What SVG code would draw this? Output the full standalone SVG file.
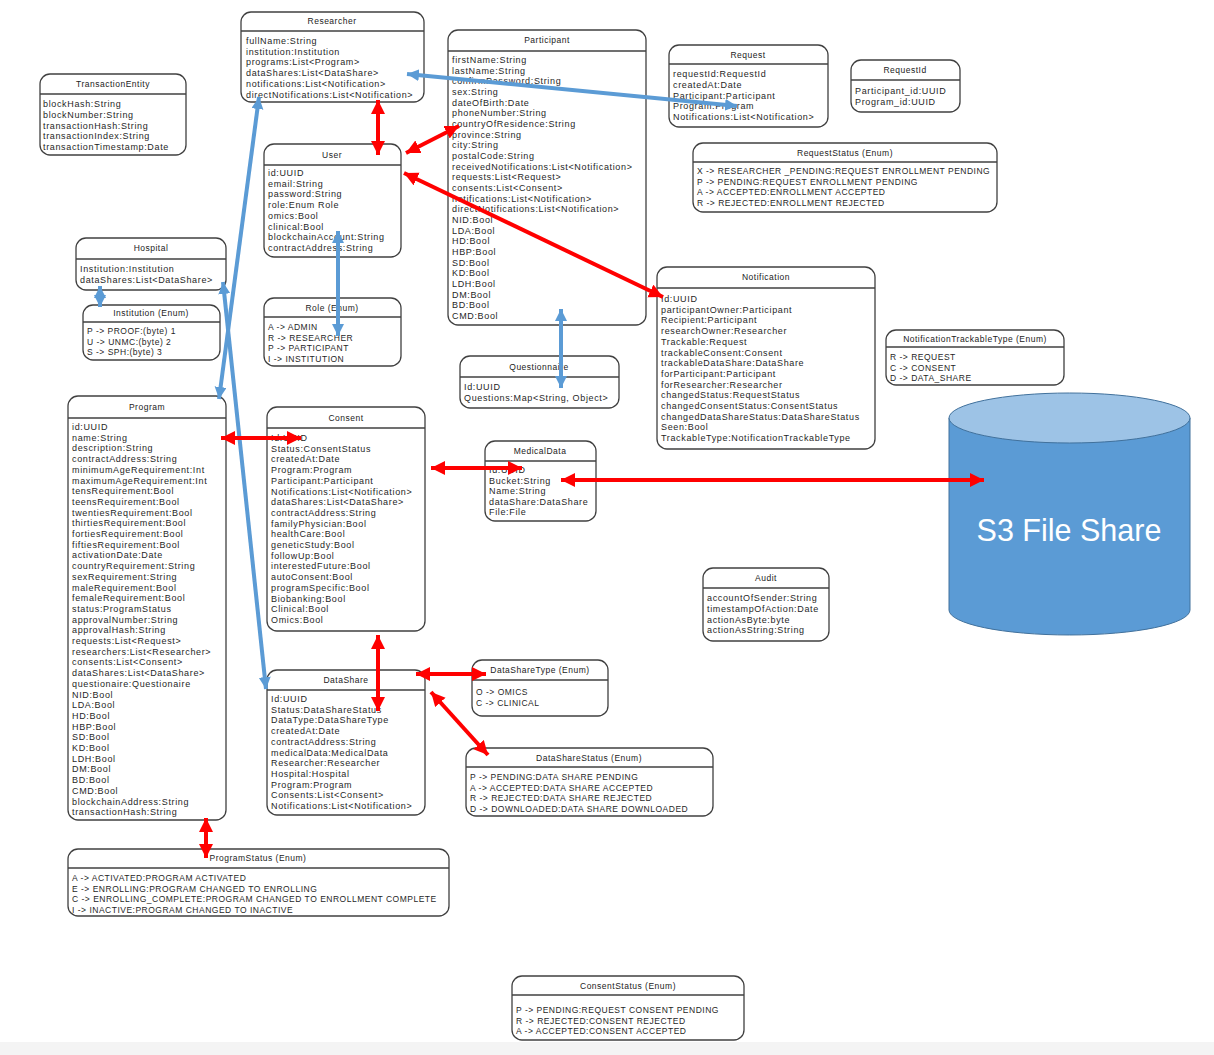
<svg xmlns="http://www.w3.org/2000/svg" width="1214" height="1055" viewBox="0 0 1214 1055">
  <style>
    .box { fill: #ffffff; stroke: #404040; stroke-width: 1.3; }
    .hdr { stroke: #404040; stroke-width: 1.3; }
    .ttl { font-family: "Liberation Sans", Arial, sans-serif; font-size: 8.5px; letter-spacing: 0.5px; fill: #222; text-anchor: middle; }
    .row { font-family: "Liberation Sans", Arial, sans-serif; font-size: 9px; letter-spacing: 0.65px; fill: #1f1f1f; }
    .enum { font-family: "Liberation Sans", Arial, sans-serif; font-size: 8.5px; letter-spacing: 0.5px; fill: #1f1f1f; }
    .blue { stroke: #5b9bd5; stroke-width: 4; fill: none; }
    .red { stroke: #ff0000; stroke-width: 4; fill: none; }
    .s3 { font-family: "Liberation Sans", Arial, sans-serif; font-size: 30.5px; fill: #ffffff; text-anchor: middle; }
  </style>
  <defs>
    <marker id="ahBlue" markerUnits="userSpaceOnUse" markerWidth="14" markerHeight="14" refX="12" refY="6" orient="auto-start-reverse">
      <path d="M0,0 L12,6 L0,12 z" fill="#5b9bd5"/>
    </marker>
    <marker id="ahRed" markerUnits="userSpaceOnUse" markerWidth="16" markerHeight="16" refX="14" refY="7" orient="auto-start-reverse">
      <path d="M0,0 L14,7 L0,14 z" fill="#ff0000"/>
    </marker>
  </defs>

  <rect x="0" y="0" width="1214" height="1055" fill="#ffffff"/>
  <rect x="0" y="1042" width="1214" height="13" fill="#f4f4f4"/>

  <!-- storage cylinder -->
  <g id="s3">
    <path d="M949,418 L949,610 A120.5,25 0 0 0 1190,610 L1190,418 Z" fill="#5b9bd5" stroke="#41719c" stroke-width="1"/>
    <ellipse cx="1069.5" cy="418" rx="120.5" ry="25" fill="#9dc3e6" stroke="#41719c" stroke-width="1"/>
    <text class="s3" x="1069" y="541">S3 File Share</text>
  </g>

  <g id="researcher">
    <rect class="box" x="241" y="12" width="183" height="90" rx="10"/>
    <line class="hdr" x1="241" y1="31" x2="424" y2="31"/>
    <text class="ttl" x="332" y="24">Researcher</text>
    <text class="row" y="44">
      <tspan x="246">fullName:String</tspan>
      <tspan x="246" dy="10.7">institution:Institution</tspan>
      <tspan x="246" dy="10.7">programs:List&lt;Program&gt;</tspan>
      <tspan x="246" dy="10.7">dataShares:List&lt;DataShare&gt;</tspan>
      <tspan x="246" dy="10.7">notifications:List&lt;Notification&gt;</tspan>
      <tspan x="246" dy="10.7">directNotifications:List&lt;Notification&gt;</tspan>
    </text>
  </g>

  <g id="transactionEntity">
    <rect class="box" x="40" y="74" width="146" height="81" rx="10"/>
    <line class="hdr" x1="40" y1="94" x2="186" y2="94"/>
    <text class="ttl" x="113" y="87">TransactionEntity</text>
    <text class="row" y="107">
      <tspan x="43">blockHash:String</tspan>
      <tspan x="43" dy="10.8">blockNumber:String</tspan>
      <tspan x="43" dy="10.8">transactionHash:String</tspan>
      <tspan x="43" dy="10.8">transactionIndex:String</tspan>
      <tspan x="43" dy="10.8">transactionTimestamp:Date</tspan>
    </text>
  </g>

  <g id="participant">
    <rect class="box" x="448" y="30" width="198" height="295" rx="10"/>
    <line class="hdr" x1="448" y1="51" x2="646" y2="51"/>
    <text class="ttl" x="547" y="43">Participant</text>
    <text class="row" y="63">
      <tspan x="452">firstName:String</tspan>
      <tspan x="452" dy="10.67">lastName:String</tspan>
      <tspan x="452" dy="10.67">confirmPassword:String</tspan>
      <tspan x="452" dy="10.67">sex:String</tspan>
      <tspan x="452" dy="10.67">dateOfBirth:Date</tspan>
      <tspan x="452" dy="10.67">phoneNumber:String</tspan>
      <tspan x="452" dy="10.67">countryOfResidence:String</tspan>
      <tspan x="452" dy="10.67">province:String</tspan>
      <tspan x="452" dy="10.67">city:String</tspan>
      <tspan x="452" dy="10.67">postalCode:String</tspan>
      <tspan x="452" dy="10.67">receivedNotifications:List&lt;Notification&gt;</tspan>
      <tspan x="452" dy="10.67">requests:List&lt;Request&gt;</tspan>
      <tspan x="452" dy="10.67">consents:List&lt;Consent&gt;</tspan>
      <tspan x="452" dy="10.67">notifications:List&lt;Notification&gt;</tspan>
      <tspan x="452" dy="10.67">directNotifications:List&lt;Notification&gt;</tspan>
      <tspan x="452" dy="10.67">NID:Bool</tspan>
      <tspan x="452" dy="10.67">LDA:Bool</tspan>
      <tspan x="452" dy="10.67">HD:Bool</tspan>
      <tspan x="452" dy="10.67">HBP:Bool</tspan>
      <tspan x="452" dy="10.67">SD:Bool</tspan>
      <tspan x="452" dy="10.67">KD:Bool</tspan>
      <tspan x="452" dy="10.67">LDH:Bool</tspan>
      <tspan x="452" dy="10.67">DM:Bool</tspan>
      <tspan x="452" dy="10.67">BD:Bool</tspan>
      <tspan x="452" dy="10.67">CMD:Bool</tspan>
    </text>
  </g>

  <g id="request">
    <rect class="box" x="669" y="45" width="159" height="82" rx="10"/>
    <line class="hdr" x1="669" y1="64" x2="828" y2="64"/>
    <text class="ttl" x="748" y="58">Request</text>
    <text class="row" y="77">
      <tspan x="673">requestId:RequestId</tspan>
      <tspan x="673" dy="10.8">createdAt:Date</tspan>
      <tspan x="673" dy="10.8">Participant:Participant</tspan>
      <tspan x="673" dy="10.8">Program:Program</tspan>
      <tspan x="673" dy="10.8">Notifications:List&lt;Notification&gt;</tspan>
    </text>
  </g>

  <g id="requestId">
    <rect class="box" x="851" y="60" width="109" height="52" rx="10"/>
    <line class="hdr" x1="851" y1="80" x2="960" y2="80"/>
    <text class="ttl" x="905" y="73">RequestId</text>
    <text class="row" y="94">
      <tspan x="855">Participant_id:UUID</tspan>
      <tspan x="855" dy="10.8">Program_id:UUID</tspan>
    </text>
  </g>

  <g id="requestStatus">
    <rect class="box" x="693" y="143" width="304" height="69" rx="10"/>
    <line class="hdr" x1="693" y1="162" x2="997" y2="162"/>
    <text class="ttl" x="845" y="156">RequestStatus (Enum)</text>
    <text class="enum" y="174">
      <tspan x="697">X -&gt; RESEARCHER _PENDING:REQUEST ENROLLMENT PENDING</tspan>
      <tspan x="697" dy="10.7">P -&gt; PENDING:REQUEST ENROLLMENT PENDING</tspan>
      <tspan x="697" dy="10.7">A -&gt; ACCEPTED:ENROLLMENT ACCEPTED</tspan>
      <tspan x="697" dy="10.7">R -&gt; REJECTED:ENROLLMENT REJECTED</tspan>
    </text>
  </g>

  <g id="user">
    <rect class="box" x="264" y="144" width="137" height="113" rx="10"/>
    <line class="hdr" x1="264" y1="165" x2="401" y2="165"/>
    <text class="ttl" x="332" y="158">User</text>
    <text class="row" y="176">
      <tspan x="268">id:UUID</tspan>
      <tspan x="268" dy="10.7">email:String</tspan>
      <tspan x="268" dy="10.7">password:String</tspan>
      <tspan x="268" dy="10.7">role:Enum Role</tspan>
      <tspan x="268" dy="10.7">omics:Bool</tspan>
      <tspan x="268" dy="10.7">clinical:Bool</tspan>
      <tspan x="268" dy="10.7">blockchainAccount:String</tspan>
      <tspan x="268" dy="10.7">contractAddress:String</tspan>
    </text>
  </g>

  <g id="hospital">
    <rect class="box" x="76" y="238" width="150" height="52" rx="10"/>
    <line class="hdr" x1="76" y1="259" x2="226" y2="259"/>
    <text class="ttl" x="151" y="251">Hospital</text>
    <text class="row" y="272">
      <tspan x="80">Institution:Institution</tspan>
      <tspan x="80" dy="10.8">dataShares:List&lt;DataShare&gt;</tspan>
    </text>
  </g>

  <g id="institution">
    <rect class="box" x="83" y="305" width="137" height="55" rx="10"/>
    <line class="hdr" x1="83" y1="322" x2="220" y2="322"/>
    <text class="ttl" x="151" y="316">Institution (Enum)</text>
    <text class="enum" y="334">
      <tspan x="87">P -&gt; PROOF:(byte) 1</tspan>
      <tspan x="87" dy="10.7">U -&gt; UNMC:(byte) 2</tspan>
      <tspan x="87" dy="10.7">S -&gt; SPH:(byte) 3</tspan>
    </text>
  </g>

  <g id="role">
    <rect class="box" x="264" y="298" width="137" height="68" rx="10"/>
    <line class="hdr" x1="264" y1="317" x2="401" y2="317"/>
    <text class="ttl" x="332" y="311">Role (Enum)</text>
    <text class="enum" y="330">
      <tspan x="268">A -&gt; ADMIN</tspan>
      <tspan x="268" dy="10.5">R -&gt; RESEARCHER</tspan>
      <tspan x="268" dy="10.5">P -&gt; PARTICIPANT</tspan>
      <tspan x="268" dy="10.5">I -&gt; INSTITUTION</tspan>
    </text>
  </g>

  <g id="notification">
    <rect class="box" x="657" y="267" width="218" height="182" rx="10"/>
    <line class="hdr" x1="657" y1="288" x2="875" y2="288"/>
    <text class="ttl" x="766" y="280">Notification</text>
    <text class="row" y="302">
      <tspan x="661">Id:UUID</tspan>
      <tspan x="661" dy="10.7">participantOwner:Participant</tspan>
      <tspan x="661" dy="10.7">Recipient:Participant</tspan>
      <tspan x="661" dy="10.7">researchOwner:Researcher</tspan>
      <tspan x="661" dy="10.7">Trackable:Request</tspan>
      <tspan x="661" dy="10.7">trackableConsent:Consent</tspan>
      <tspan x="661" dy="10.7">trackableDataShare:DataShare</tspan>
      <tspan x="661" dy="10.7">forParticipant:Participant</tspan>
      <tspan x="661" dy="10.7">forResearcher:Researcher</tspan>
      <tspan x="661" dy="10.7">changedStatus:RequestStatus</tspan>
      <tspan x="661" dy="10.7">changedConsentStatus:ConsentStatus</tspan>
      <tspan x="661" dy="10.7">changedDataShareStatus:DataShareStatus</tspan>
      <tspan x="661" dy="10.7">Seen:Bool</tspan>
      <tspan x="661" dy="10.7">TrackableType:NotificationTrackableType</tspan>
    </text>
  </g>

  <g id="notificationTrackableType">
    <rect class="box" x="886" y="330" width="178" height="55" rx="10"/>
    <line class="hdr" x1="886" y1="347" x2="1064" y2="347"/>
    <text class="ttl" x="975" y="342">NotificationTrackableType (Enum)</text>
    <text class="enum" y="360">
      <tspan x="890">R -&gt; REQUEST</tspan>
      <tspan x="890" dy="10.7">C -&gt; CONSENT</tspan>
      <tspan x="890" dy="10.7">D -&gt; DATA_SHARE</tspan>
    </text>
  </g>

  <g id="questionnaire">
    <rect class="box" x="460" y="356" width="159" height="52" rx="10"/>
    <line class="hdr" x1="460" y1="377" x2="619" y2="377"/>
    <text class="ttl" x="539" y="370">Questionnaire</text>
    <text class="row" y="390">
      <tspan x="464">Id:UUID</tspan>
      <tspan x="464" dy="10.8">Questions:Map&lt;String, Object&gt;</tspan>
    </text>
  </g>

  <g id="program">
    <rect class="box" x="68" y="396" width="158" height="424" rx="10"/>
    <line class="hdr" x1="68" y1="418" x2="226" y2="418"/>
    <text class="ttl" x="147" y="410">Program</text>
    <text class="row" y="430">
      <tspan x="72">id:UUID</tspan>
      <tspan x="72" dy="10.7">name:String</tspan>
      <tspan x="72" dy="10.7">description:String</tspan>
      <tspan x="72" dy="10.7">contractAddress:String</tspan>
      <tspan x="72" dy="10.7">minimumAgeRequirement:Int</tspan>
      <tspan x="72" dy="10.7">maximumAgeRequirement:Int</tspan>
      <tspan x="72" dy="10.7">tensRequirement:Bool</tspan>
      <tspan x="72" dy="10.7">teensRequirement:Bool</tspan>
      <tspan x="72" dy="10.7">twentiesRequirement:Bool</tspan>
      <tspan x="72" dy="10.7">thirtiesRequirement:Bool</tspan>
      <tspan x="72" dy="10.7">fortiesRequirement:Bool</tspan>
      <tspan x="72" dy="10.7">fiftiesRequirement:Bool</tspan>
      <tspan x="72" dy="10.7">activationDate:Date</tspan>
      <tspan x="72" dy="10.7">countryRequirement:String</tspan>
      <tspan x="72" dy="10.7">sexRequirement:String</tspan>
      <tspan x="72" dy="10.7">maleRequirement:Bool</tspan>
      <tspan x="72" dy="10.7">femaleRequirement:Bool</tspan>
      <tspan x="72" dy="10.7">status:ProgramStatus</tspan>
      <tspan x="72" dy="10.7">approvalNumber:String</tspan>
      <tspan x="72" dy="10.7">approvalHash:String</tspan>
      <tspan x="72" dy="10.7">requests:List&lt;Request&gt;</tspan>
      <tspan x="72" dy="10.7">researchers:List&lt;Researcher&gt;</tspan>
      <tspan x="72" dy="10.7">consents:List&lt;Consent&gt;</tspan>
      <tspan x="72" dy="10.7">dataShares:List&lt;DataShare&gt;</tspan>
      <tspan x="72" dy="10.7">questionaire:Questionaire</tspan>
      <tspan x="72" dy="10.7">NID:Bool</tspan>
      <tspan x="72" dy="10.7">LDA:Bool</tspan>
      <tspan x="72" dy="10.7">HD:Bool</tspan>
      <tspan x="72" dy="10.7">HBP:Bool</tspan>
      <tspan x="72" dy="10.7">SD:Bool</tspan>
      <tspan x="72" dy="10.7">KD:Bool</tspan>
      <tspan x="72" dy="10.7">LDH:Bool</tspan>
      <tspan x="72" dy="10.7">DM:Bool</tspan>
      <tspan x="72" dy="10.7">BD:Bool</tspan>
      <tspan x="72" dy="10.7">CMD:Bool</tspan>
      <tspan x="72" dy="10.7">blockchainAddress:String</tspan>
      <tspan x="72" dy="10.7">transactionHash:String</tspan>
    </text>
  </g>

  <g id="consent">
    <rect class="box" x="267" y="407" width="158" height="224" rx="10"/>
    <line class="hdr" x1="267" y1="428" x2="425" y2="428"/>
    <text class="ttl" x="346" y="421">Consent</text>
    <text class="row" y="441">
      <tspan x="271">Id:UUID</tspan>
      <tspan x="271" dy="10.7">Status:ConsentStatus</tspan>
      <tspan x="271" dy="10.7">createdAt:Date</tspan>
      <tspan x="271" dy="10.7">Program:Program</tspan>
      <tspan x="271" dy="10.7">Participant:Participant</tspan>
      <tspan x="271" dy="10.7">Notifications:List&lt;Notification&gt;</tspan>
      <tspan x="271" dy="10.7">dataShares:List&lt;DataShare&gt;</tspan>
      <tspan x="271" dy="10.7">contractAddress:String</tspan>
      <tspan x="271" dy="10.7">familyPhysician:Bool</tspan>
      <tspan x="271" dy="10.7">healthCare:Bool</tspan>
      <tspan x="271" dy="10.7">geneticStudy:Bool</tspan>
      <tspan x="271" dy="10.7">followUp:Bool</tspan>
      <tspan x="271" dy="10.7">interestedFuture:Bool</tspan>
      <tspan x="271" dy="10.7">autoConsent:Bool</tspan>
      <tspan x="271" dy="10.7">programSpecific:Bool</tspan>
      <tspan x="271" dy="10.7">Biobanking:Bool</tspan>
      <tspan x="271" dy="10.7">Clinical:Bool</tspan>
      <tspan x="271" dy="10.7">Omics:Bool</tspan>
    </text>
  </g>

  <g id="medicalData">
    <rect class="box" x="485" y="441" width="111" height="80" rx="10"/>
    <line class="hdr" x1="485" y1="461" x2="596" y2="461"/>
    <text class="ttl" x="540" y="454">MedicalData</text>
    <text class="row" y="473">
      <tspan x="489">Id:UUID</tspan>
      <tspan x="489" dy="10.6">Bucket:String</tspan>
      <tspan x="489" dy="10.6">Name:String</tspan>
      <tspan x="489" dy="10.6">dataShare:DataShare</tspan>
      <tspan x="489" dy="10.6">File:File</tspan>
    </text>
  </g>

  <g id="audit">
    <rect class="box" x="703" y="568" width="126" height="73" rx="10"/>
    <line class="hdr" x1="703" y1="588" x2="829" y2="588"/>
    <text class="ttl" x="766" y="581">Audit</text>
    <text class="row" y="601">
      <tspan x="707">accountOfSender:String</tspan>
      <tspan x="707" dy="10.8">timestampOfAction:Date</tspan>
      <tspan x="707" dy="10.8">actionAsByte:byte</tspan>
      <tspan x="707" dy="10.8">actionAsString:String</tspan>
    </text>
  </g>

  <g id="dataShare">
    <rect class="box" x="267" y="670" width="158" height="145" rx="10"/>
    <line class="hdr" x1="267" y1="690" x2="425" y2="690"/>
    <text class="ttl" x="346" y="683">DataShare</text>
    <text class="row" y="702">
      <tspan x="271">Id:UUID</tspan>
      <tspan x="271" dy="10.7">Status:DataShareStatus</tspan>
      <tspan x="271" dy="10.7">DataType:DataShareType</tspan>
      <tspan x="271" dy="10.7">createdAt:Date</tspan>
      <tspan x="271" dy="10.7">contractAddress:String</tspan>
      <tspan x="271" dy="10.7">medicalData:MedicalData</tspan>
      <tspan x="271" dy="10.7">Researcher:Researcher</tspan>
      <tspan x="271" dy="10.7">Hospital:Hospital</tspan>
      <tspan x="271" dy="10.7">Program:Program</tspan>
      <tspan x="271" dy="10.7">Consents:List&lt;Consent&gt;</tspan>
      <tspan x="271" dy="10.7">Notifications:List&lt;Notification&gt;</tspan>
    </text>
  </g>

  <g id="dataShareType">
    <rect class="box" x="472" y="660" width="136" height="56" rx="10"/>
    <line class="hdr" x1="472" y1="680" x2="608" y2="680"/>
    <text class="ttl" x="540" y="673">DataShareType (Enum)</text>
    <text class="enum" y="695">
      <tspan x="476">O -&gt; OMICS</tspan>
      <tspan x="476" dy="10.8">C -&gt; CLINICAL</tspan>
    </text>
  </g>

  <g id="dataShareStatus">
    <rect class="box" x="466" y="748" width="247" height="68" rx="10"/>
    <line class="hdr" x1="466" y1="767" x2="713" y2="767"/>
    <text class="ttl" x="589" y="761">DataShareStatus (Enum)</text>
    <text class="enum" y="780">
      <tspan x="470">P -&gt; PENDING:DATA SHARE PENDING</tspan>
      <tspan x="470" dy="10.7">A -&gt; ACCEPTED:DATA SHARE ACCEPTED</tspan>
      <tspan x="470" dy="10.7">R -&gt; REJECTED:DATA SHARE REJECTED</tspan>
      <tspan x="470" dy="10.7">D -&gt; DOWNLOADED:DATA SHARE DOWNLOADED</tspan>
    </text>
  </g>

  <g id="programStatus">
    <rect class="box" x="68" y="849" width="381" height="67" rx="10"/>
    <line class="hdr" x1="68" y1="868" x2="449" y2="868"/>
    <text class="ttl" x="258" y="861">ProgramStatus (Enum)</text>
    <text class="enum" y="881">
      <tspan x="72">A -&gt; ACTIVATED:PROGRAM ACTIVATED</tspan>
      <tspan x="72" dy="10.7">E -&gt; ENROLLING:PROGRAM CHANGED TO ENROLLING</tspan>
      <tspan x="72" dy="10.7">C -&gt; ENROLLING_COMPLETE:PROGRAM CHANGED TO ENROLLMENT COMPLETE</tspan>
      <tspan x="72" dy="10.7">I -&gt; INACTIVE:PROGRAM CHANGED TO INACTIVE</tspan>
    </text>
  </g>

  <g id="consentStatus">
    <rect class="box" x="512" y="976" width="232" height="64" rx="10"/>
    <line class="hdr" x1="512" y1="995" x2="744" y2="995"/>
    <text class="ttl" x="628" y="989">ConsentStatus (Enum)</text>
    <text class="enum" y="1013">
      <tspan x="516">P -&gt; PENDING:REQUEST CONSENT PENDING</tspan>
      <tspan x="516" dy="10.7">R -&gt; REJECTED:CONSENT REJECTED</tspan>
      <tspan x="516" dy="10.7">A -&gt; ACCEPTED:CONSENT ACCEPTED</tspan>
    </text>
  </g>

  <!-- associations -->
  <g id="connectors">
    <line class="blue" x1="407" y1="74" x2="737" y2="106" marker-start="url(#ahBlue)" marker-end="url(#ahBlue)"/>
    <line class="blue" x1="259" y1="97" x2="219" y2="399" marker-start="url(#ahBlue)" marker-end="url(#ahBlue)"/>
    <line class="blue" x1="223" y1="282" x2="266" y2="689" marker-start="url(#ahBlue)" marker-end="url(#ahBlue)"/>
    <line class="blue" x1="100" y1="286" x2="100" y2="307" marker-start="url(#ahBlue)" marker-end="url(#ahBlue)"/>
    <line class="blue" x1="338" y1="231" x2="338" y2="336" marker-start="url(#ahBlue)" marker-end="url(#ahBlue)"/>
    <line class="blue" x1="561" y1="309" x2="561" y2="388" marker-start="url(#ahBlue)" marker-end="url(#ahBlue)"/>

    <line class="red" x1="378" y1="100" x2="378" y2="155" marker-start="url(#ahRed)" marker-end="url(#ahRed)"/>
    <line class="red" x1="459" y1="126" x2="406" y2="153" marker-start="url(#ahRed)" marker-end="url(#ahRed)"/>
    <line class="red" x1="404" y1="173" x2="663" y2="297" marker-start="url(#ahRed)" marker-end="url(#ahRed)"/>
    <line class="red" x1="221" y1="438" x2="301" y2="438" marker-start="url(#ahRed)" marker-end="url(#ahRed)"/>
    <line class="red" x1="431" y1="468" x2="522" y2="468" marker-start="url(#ahRed)" marker-end="url(#ahRed)"/>
    <line class="red" x1="561" y1="480" x2="984" y2="480" marker-start="url(#ahRed)" marker-end="url(#ahRed)"/>
    <line class="red" x1="378" y1="635" x2="378" y2="711" marker-start="url(#ahRed)" marker-end="url(#ahRed)"/>
    <line class="red" x1="416" y1="674" x2="486" y2="674" marker-start="url(#ahRed)" marker-end="url(#ahRed)"/>
    <line class="red" x1="431" y1="692" x2="488" y2="755" marker-start="url(#ahRed)" marker-end="url(#ahRed)"/>
    <line class="red" x1="206" y1="818" x2="206" y2="858" marker-start="url(#ahRed)" marker-end="url(#ahRed)"/>
  </g>
</svg>
